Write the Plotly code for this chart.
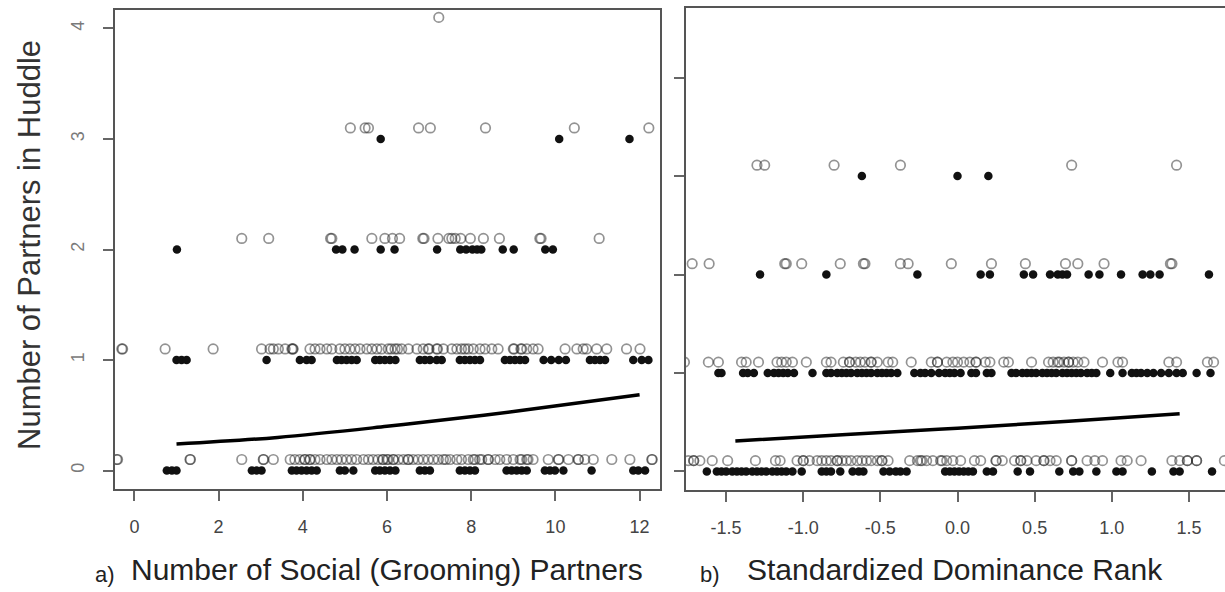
import plotly.graph_objects as go

# ---------------- data: panel a (x = number of grooming partners) ----------------
A_OPEN_4 = [7.23]
A_OPEN_3 = [5.13, 5.48, 5.56, 6.75, 7.03, 8.34, 10.45, 12.22]
A_FILL_3 = [5.85, 10.09, 11.76]
A_OPEN_2 = [2.55, 3.19, 4.66, 4.69, 5.64, 5.95, 6.13, 6.30, 6.85, 6.88, 7.21, 7.47,
            7.54, 7.62, 7.75, 7.98, 8.29, 8.67, 9.63, 9.66, 11.04]
A_FILL_2 = [1.01, 4.79, 4.94, 5.23, 5.85, 6.18, 7.19, 7.74, 7.88, 8.03, 8.14, 8.24,
            8.75, 9.01, 9.76, 9.94]
A_OPEN_1 = [-0.30, -0.28, 0.73, 1.87, 3.02, 3.22, 3.30, 3.42, 3.58, 3.74, 3.77, 3.76,
            4.17, 4.29, 4.41, 4.57, 4.69, 4.88, 5.00, 5.12, 5.24, 5.36, 5.52, 5.64,
            5.76, 5.87, 6.03, 6.10, 6.19, 6.25, 6.35, 6.51, 6.71, 6.86, 6.98, 7.00,
            7.18, 7.20, 7.34, 7.54, 7.66, 7.77, 7.85, 7.93, 8.05, 8.21, 8.33, 8.49,
            8.64, 9.00, 9.02, 9.18, 9.20, 9.32, 9.47, 9.59, 10.23, 10.51, 10.66,
            10.74, 10.98, 11.22, 11.69, 12.01]
A_FILL_1 = [1.00, 1.12, 1.24, 3.14, 3.93, 4.09, 4.21, 4.81, 4.92, 5.04, 5.16, 5.28,
            5.72, 5.83, 5.95, 6.07, 6.20, 6.78, 6.90, 7.02, 7.18, 7.30, 7.73, 7.85,
            7.97, 8.09, 8.21, 8.80, 8.92, 9.04, 9.16, 9.28, 9.72, 9.90, 10.08, 10.25,
            10.82, 10.94, 11.06, 11.18, 11.85, 12.05, 12.21]
A_OPEN_0 = [-0.42, -0.40, 1.32, 1.33, 2.55, 3.06, 3.07, 3.30, 3.70, 3.81, 3.93, 4.05,
            4.05, 4.17, 4.17, 4.29, 4.41, 4.57, 4.69, 4.81, 4.92, 5.04, 5.16, 5.28,
            5.44, 5.56, 5.67, 5.79, 5.90, 5.91, 6.00, 6.03, 6.15, 6.15, 6.27, 6.39,
            6.50, 6.51, 6.62, 6.74, 6.86, 6.98, 7.10, 7.22, 7.34, 7.40, 7.50, 7.66,
            7.77, 7.93, 8.05, 8.09, 8.20, 8.25, 8.40, 8.41, 8.57, 8.68, 8.84, 9.00,
            9.16, 9.20, 9.32, 9.35, 9.47, 9.83, 10.07, 10.08, 10.31, 10.54, 10.55,
            10.70, 10.90, 11.34, 11.77, 12.29, 12.30]
A_FILL_0 = [0.77, 0.89, 1.00, 2.79, 2.90, 3.02, 3.74, 3.85, 3.97, 4.09, 4.21, 4.33,
            4.88, 5.00, 5.20, 5.72, 5.83, 5.95, 6.07, 6.20, 6.78, 6.90, 7.02, 7.73,
            7.85, 7.97, 8.09, 8.84, 8.96, 9.08, 9.20, 9.32, 9.75, 9.87, 9.99, 10.19,
            10.86, 11.85, 11.97, 12.13]
A_FIT_X = [1.0, 3.4, 6.0, 8.3, 9.9, 12.0]
A_FIT_Y = [0.24, 0.30, 0.40, 0.50, 0.58, 0.685]
A_XTICKS = [0, 2, 4, 6, 8, 10, 12]
A_YTICKS = [0, 1, 2, 3, 4]

# ---------------- data: panel b (x = standardized dominance rank) ----------------
B_OPEN_3 = [-1.30, -1.25, -0.80, -0.37, 0.74, 1.42]
B_FILL_3 = [-0.62, 0.00, 0.20]
B_OPEN_2 = [-1.72, -1.61, -1.12, -1.11, -1.01, -0.76, -0.61, -0.60, -0.37, -0.32,
            -0.04, 0.22, 0.44, 0.70, 0.78, 0.95, 1.38, 1.39]
B_FILL_2 = [-1.28, -0.85, -0.26, 0.15, 0.21, 0.43, 0.49, 0.60, 0.65, 0.68, 0.71,
            0.85, 0.92, 1.06, 1.20, 1.25, 1.31, 1.63]
B_OPEN_1 = [-1.77, -1.615, -1.55, -1.40, -1.37, -1.29, -1.17, -1.14, -1.11, -1.07,
            -0.98, -0.85, -0.82, -0.74, -0.70, -0.70, -0.66, -0.63, -0.60, -0.56,
            -0.56, -0.52, -0.45, -0.42, -0.30, -0.17, -0.13, -0.13, -0.07, -0.03,
            0.00, 0.04, 0.08, 0.12, 0.12, 0.18, 0.21, 0.30, 0.33, 0.48, 0.59, 0.62,
            0.65, 0.66, 0.69, 0.72, 0.72, 0.75, 0.78, 0.82, 0.94, 1.04, 1.07, 1.37,
            1.42, 1.62, 1.66]
B_FILL_1 = [-1.55, -1.53, -1.39, -1.36, -1.32, -1.23, -1.19, -1.16, -1.13, -1.10,
            -1.06, -0.94, -0.85, -0.82, -0.78, -0.75, -0.72, -0.69, -0.65, -0.62,
            -0.59, -0.56, -0.52, -0.49, -0.46, -0.43, -0.39, -0.28, -0.24, -0.21,
            -0.17, -0.12, -0.08, -0.05, -0.02, 0.02, 0.09, 0.12, 0.19, 0.22, 0.35,
            0.38, 0.42, 0.45, 0.48, 0.51, 0.55, 0.58, 0.61, 0.64, 0.68, 0.71, 0.74,
            0.77, 0.80, 0.84, 0.87, 0.90, 0.99, 1.07, 1.13, 1.16, 1.19, 1.23, 1.27,
            1.32, 1.37, 1.42, 1.46, 1.55, 1.64]
B_OPEN_0 = [-1.745, -1.71, -1.71, -1.67, -1.59, -1.49, -1.31, -1.18, -1.15, -1.04,
            -1.00, -1.00, -0.96, -0.91, -0.88, -0.85, -0.82, -0.78, -0.78, -0.75,
            -0.72, -0.69, -0.65, -0.62, -0.59, -0.56, -0.52, -0.49, -0.49, -0.45,
            -0.31, -0.26, -0.23, -0.24, -0.20, -0.16, -0.11, -0.10, -0.07, -0.03,
            0.02, 0.11, 0.15, 0.25, 0.25, 0.29, 0.37, 0.41, 0.41, 0.45, 0.51, 0.56,
            0.56, 0.60, 0.64, 0.74, 0.74, 0.84, 0.89, 0.94, 1.06, 1.10, 1.19, 1.39,
            1.44, 1.49, 1.49, 1.55, 1.55, 1.73]
B_FILL_0 = [-1.625, -1.56, -1.53, -1.50, -1.46, -1.43, -1.40, -1.37, -1.33, -1.30,
            -1.27, -1.24, -1.20, -1.17, -1.14, -1.11, -1.07, -1.01, -0.88, -0.85,
            -0.82, -0.76, -0.68, -0.64, -0.61, -0.48, -0.44, -0.40, -0.37, -0.33,
            -0.08, -0.05, -0.02, 0.01, 0.04, 0.07, 0.10, 0.19, 0.23, 0.39, 0.47,
            0.66, 0.75, 0.79, 0.90, 1.03, 1.07, 1.26, 1.40, 1.44, 1.65]
B_FIT_X = [-1.44, -0.72, 0.0, 0.72, 1.44]
B_FIT_Y = [0.31, 0.375, 0.44, 0.51, 0.585]
B_XTICKS = [-1.5, -1.0, -0.5, 0.0, 0.5, 1.0, 1.5]
B_XTICKTEXT = ["-1.5", "-1.0", "-0.5", "0.0", "0.5", "1.0", "1.5"]
B_YTICKS = [0, 1, 2, 3, 4]

Y_TITLE = "Number of Partners in Huddle"
A_TITLE = "Number of Social (Grooming) Partners"
B_TITLE = "Standardized Dominance Rank"

# ---------------- styling ----------------
W, H = 1225, 592
FONT = "Liberation Sans, Arial, sans-serif"
OPEN_STYLE = dict(symbol="circle-open", size=9.5, color="rgba(40,40,40,0.5)",
                  line=dict(width=1.7))
FILL_STYLE = dict(symbol="circle", size=8.5, color="#111111")
A_OFFSET = 0.10   # vertical offset used to separate open markers from filled ones
B_OFFSET = 0.11


def px_x(p):
    return p / W


def px_y(p):
    return 1 - p / H


fig = go.Figure()


def add_points(xs, level, offset, style, xa, ya):
    fig.add_trace(go.Scatter(x=xs, y=[level + offset] * len(xs), mode="markers",
                             marker=style, xaxis=xa, yaxis=ya,
                             showlegend=False, hoverinfo="skip"))


for xs, lv in [(A_OPEN_0, 0), (A_OPEN_1, 1), (A_OPEN_2, 2), (A_OPEN_3, 3), (A_OPEN_4, 4)]:
    add_points(xs, lv, A_OFFSET, OPEN_STYLE, "x", "y")
for xs, lv in [(A_FILL_0, 0), (A_FILL_1, 1), (A_FILL_2, 2), (A_FILL_3, 3)]:
    add_points(xs, lv, 0, FILL_STYLE, "x", "y")
fig.add_trace(go.Scatter(x=A_FIT_X, y=A_FIT_Y, mode="lines",
                         line=dict(color="black", width=3.5, shape="spline"),
                         xaxis="x", yaxis="y", showlegend=False))

for xs, lv in [(B_OPEN_0, 0), (B_OPEN_1, 1), (B_OPEN_2, 2), (B_OPEN_3, 3)]:
    add_points(xs, lv, B_OFFSET, OPEN_STYLE, "x2", "y2")
for xs, lv in [(B_FILL_0, 0), (B_FILL_1, 1), (B_FILL_2, 2), (B_FILL_3, 3)]:
    add_points(xs, lv, 0, FILL_STYLE, "x2", "y2")
fig.add_trace(go.Scatter(x=B_FIT_X, y=B_FIT_Y, mode="lines",
                         line=dict(color="black", width=3.5, shape="spline"),
                         xaxis="x2", yaxis="y2", showlegend=False))

axis_common = dict(showgrid=False, zeroline=False, showline=True, linecolor="#555555",
                   linewidth=1.5, ticks="outside", ticklen=10, tickwidth=1.5,
                   tickcolor="#666666", automargin=False)

fig.update_layout(
    width=W, height=H, plot_bgcolor="white", paper_bgcolor="white",
    margin=dict(l=0, r=0, t=0, b=0),
    xaxis=dict(domain=[px_x(115), px_x(660)], range=[-0.461, 12.485], anchor="y",
               tickvals=A_XTICKS, mirror=True, ticklabelstandoff=11,
               tickfont=dict(family=FONT, size=18, color="#444444"), **axis_common),
    yaxis=dict(domain=[px_y(489), px_y(10)], range=[-0.167, 4.167], anchor="x",
               tickvals=A_YTICKS, mirror=True, tickangle=-90, ticklabelstandoff=12,
               tickfont=dict(family=FONT, size=18, color="#7a7a7a"), **axis_common),
    xaxis2=dict(domain=[px_x(686), 1.0], range=[-1.760, 1.734], anchor="y2",
                tickvals=B_XTICKS, ticktext=B_XTICKTEXT, mirror=True, ticklabelstandoff=11,
                tickfont=dict(family=FONT, size=18, color="#444444"), **axis_common),
    yaxis2=dict(domain=[px_y(490), px_y(8)], range=[-0.188, 4.706], anchor="x2",
                tickvals=B_YTICKS, showticklabels=False, mirror=False, **axis_common),
    annotations=[
        dict(text=Y_TITLE, x=px_x(30), y=px_y(245), xref="paper", yref="paper",
             textangle=-90, showarrow=False, xanchor="center", yanchor="middle",
             font=dict(family=FONT, size=31, color="#333333")),
        dict(text="a)", x=px_x(93), y=px_y(574), xref="paper", yref="paper",
             showarrow=False, xanchor="left", yanchor="middle",
             font=dict(family=FONT, size=22, color="#222222")),
        dict(text=A_TITLE, x=px_x(129), y=px_y(569.5), xref="paper", yref="paper",
             showarrow=False, xanchor="left", yanchor="middle",
             font=dict(family=FONT, size=30, color="#222222")),
        dict(text="b)", x=px_x(698), y=px_y(574), xref="paper", yref="paper",
             showarrow=False, xanchor="left", yanchor="middle",
             font=dict(family=FONT, size=22, color="#222222")),
        dict(text=B_TITLE, x=px_x(745), y=px_y(569.5), xref="paper", yref="paper",
             showarrow=False, xanchor="left", yanchor="middle",
             font=dict(family=FONT, size=30, color="#222222")),
    ],
)

fig.write_html("out.html", config={"displayModeBar": False},
               post_script="document.body.style.margin='0px';"
                           "document.body.style.overflow='hidden';")
